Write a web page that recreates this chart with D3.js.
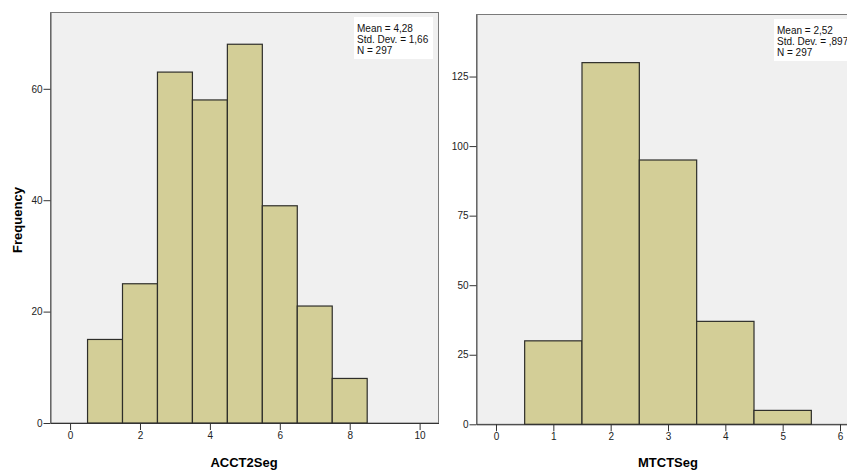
<!DOCTYPE html>
<html>
<head>
<meta charset="utf-8">
<script src="https://cdn.jsdelivr.net/npm/d3@7"></script>
<style>
  body { margin: 0; background: #fff; }
  svg { font-family: Arial, "Liberation Sans", sans-serif; }
</style>
</head>
<body>
<svg id="chart" width="847" height="470"></svg>
<script>
// ACCT2Seg histogram
const acctBins = [1, 2, 3, 4, 5, 6, 7, 8];
const acctCounts = [15, 25, 63, 58, 68, 39, 21, 8];
const acctXTicks = [0, 2, 4, 6, 8, 10];
const acctYTicks = [0, 20, 40, 60];
const acctStats = ["Mean = 4,28", "Std. Dev. = 1,66", "N = 297"];

// MTCTSeg histogram
const mtctBins = [1, 2, 3, 4, 5];
const mtctCounts = [30, 130, 95, 37, 5];
const mtctXTicks = [0, 1, 2, 3, 4, 5, 6];
const mtctYTicks = [0, 25, 50, 75, 100, 125];
const mtctStats = ["Mean = 2,52", "Std. Dev. = ,897", "N = 297"];

const svg = d3.select("#chart");

const panels = [
  { bins: acctBins, counts: acctCounts, xTicks: acctXTicks, yTicks: acctYTicks, stats: acctStats,
    label: "ACCT2Seg", labelX: 244, xDom: [-0.56, 10.54], yMax: 73.7,
    left: 50.5, right: 438.5, top: 12.5, bottom: 423, box: [354, 17, 79, 42] },
  { bins: mtctBins, counts: mtctCounts, xTicks: mtctXTicks, yTicks: mtctYTicks, stats: mtctStats,
    label: "MTCTSeg", labelX: 668, xDom: [-0.34, 6.34], yMax: 147.3,
    left: 476.5, right: 859.5, top: 14.5, bottom: 424.3, box: [774, 19, 90, 42] }
];

panels.forEach(p => {
  const x = d3.scaleLinear().domain(p.xDom).range([p.left, p.right]);
  const y = d3.scaleLinear().domain([0, p.yMax]).range([p.bottom, p.top]);
  const g = svg.append("g");

  // plot background + frame
  g.append("rect")
    .attr("x", p.left).attr("y", p.top)
    .attr("width", p.right - p.left).attr("height", p.bottom - p.top)
    .style("fill", "#f0f0f0")
    .style("stroke", "#7a7a7a");

  // bars
  g.selectAll(".bar")
    .data(p.bins.map((b, i) => ({ b, c: p.counts[i] })))
    .enter()
    .append("rect")
    .attr("class", "bar")
    .attr("x", d => x(d.b - 0.5))
    .attr("y", d => y(d.c))
    .attr("width", d => x(d.b + 0.5) - x(d.b - 0.5))
    .attr("height", d => y(0) - y(d.c))
    .style("fill", "#d3ce97")
    .style("stroke", "#2e2e2a")
    .style("stroke-width", 1.2);

  // y axis
  const yAxis = g.append("g")
    .attr("transform", `translate(${p.left},0)`)
    .call(d3.axisLeft(y).tickValues(p.yTicks).tickFormat(d3.format("d"))
      .tickSize(7).tickPadding(1).tickSizeOuter(0));
  yAxis.select(".domain").style("stroke", "#555");
  yAxis.selectAll(".tick line").style("stroke", "#333");
  yAxis.selectAll("text").style("font-size", "10px").style("fill", "#222");

  // x axis
  const xAxis = g.append("g")
    .attr("transform", `translate(0,${p.bottom})`)
    .call(d3.axisBottom(x).tickValues(p.xTicks).tickFormat(d3.format("d"))
      .tickSize(7).tickPadding(2).tickSizeOuter(0));
  xAxis.select(".domain").style("stroke", "#333");
  xAxis.selectAll(".tick line").style("stroke", "#333");
  xAxis.selectAll("text").style("font-size", "10px").style("fill", "#222");

  // axis title
  g.append("text")
    .attr("x", p.labelX)
    .attr("y", 466.5)
    .attr("text-anchor", "middle")
    .style("font-size", "13px")
    .style("font-weight", "bold")
    .text(p.label);

  // stats box
  g.append("rect")
    .attr("x", p.box[0]).attr("y", p.box[1])
    .attr("width", p.box[2]).attr("height", p.box[3])
    .style("fill", "#fff");
  g.selectAll(".stat")
    .data(p.stats)
    .enter()
    .append("text")
    .attr("x", p.box[0] + 3)
    .attr("y", (d, i) => p.box[1] + 14.5 + i * 11)
    .style("font-size", "10px")
    .style("fill", "#111")
    .text(d => d);
});

// Y axis label
svg.append("text")
  .attr("transform", "translate(22,220) rotate(-90)")
  .attr("text-anchor", "middle")
  .style("font-size", "13px")
  .style("font-weight", "bold")
  .text("Frequency");
</script>
</body>
</html>
